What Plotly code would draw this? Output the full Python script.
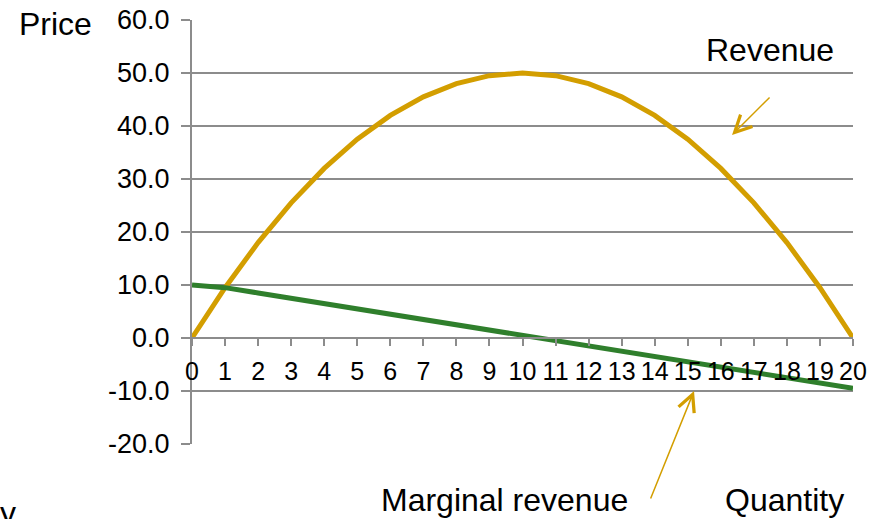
import plotly.graph_objects as go

quantity = list(range(0, 21))
revenue = [0, 9.5, 18, 25.5, 32, 37.5, 42, 45.5, 48, 49.5, 50,
           49.5, 48, 45.5, 42, 37.5, 32, 25.5, 18, 9.5, 0]
marginal_revenue = [10, 9.5, 8.5, 7.5, 6.5, 5.5, 4.5, 3.5, 2.5, 1.5, 0.5,
                    -0.5, -1.5, -2.5, -3.5, -4.5, -5.5, -6.5, -7.5, -8.5, -9.5]
y_ticks = [-20, -10, 0, 10, 20, 30, 40, 50, 60]

FONT = "Liberation Sans, Arial, sans-serif"
GOLD = "#D39E00"
GREEN = "#2F7F2C"
GRID = "#8C8C8C"

fig = go.Figure()
fig.add_trace(go.Scatter(x=quantity, y=revenue, mode="lines",
                         line=dict(color=GOLD, width=5), cliponaxis=False,
                         name="Revenue", showlegend=False))
fig.add_trace(go.Scatter(x=quantity, y=marginal_revenue, mode="lines",
                         line=dict(color=GREEN, width=5), cliponaxis=False,
                         name="Marginal revenue", showlegend=False))

fig.update_layout(
    width=880, height=519,
    margin=dict(l=192, r=27, t=20, b=75),
    paper_bgcolor="white", plot_bgcolor="white",
    font=dict(family=FONT, color="black"),
    xaxis=dict(range=[0, 20], tickmode="array", tickvals=quantity,
               ticktext=[str(q) for q in quantity],
               anchor="free", position=0.25, automargin=False,
               showline=True, linecolor=GRID, linewidth=2,
               ticks="outside", ticklen=7, tickwidth=2, tickcolor=GRID,
               showgrid=False, zeroline=False,
               tickfont=dict(size=25, family=FONT, color="black"),
               ticklabelstandoff=4),
    yaxis=dict(range=[-20, 60], tickmode="array", tickvals=y_ticks,
               ticktext=[f"{v:.1f}" for v in y_ticks], automargin=False,
               showline=True, linecolor=GRID, linewidth=2,
               ticks="outside", ticklen=9, tickwidth=2, tickcolor=GRID,
               showgrid=True, gridcolor=GRID, gridwidth=2,
               zeroline=False, ticklabelstandoff=6,
               tickfont=dict(size=27, family=FONT, color="black")),
)

annotations = [
    dict(text="Price", xref="paper", yref="paper", x=-0.207, y=0.99,
         xanchor="center", yanchor="middle",
         showarrow=False, font=dict(size=32)),
    dict(text="Revenue", xref="x", yref="y", x=17.5, y=54.3,
         xanchor="center", yanchor="middle",
         showarrow=False, font=dict(size=32)),
    dict(text="Marginal revenue", xref="paper", yref="paper", x=0.4735, y=-0.132,
         xanchor="center", yanchor="middle",
         showarrow=False, font=dict(size=32)),
    dict(text="Quantity", xref="paper", yref="paper", x=0.897, y=-0.132,
         xanchor="center", yanchor="middle",
         showarrow=False, font=dict(size=32)),
    dict(text="y", xref="paper", yref="paper", x=-0.279, y=-0.163,
         xanchor="center", yanchor="middle",
         showarrow=False, font=dict(size=32)),
    dict(text="", xref="x", yref="y", x=16.34, y=38.3, ax=39, ay=-39,
         showarrow=True, arrowhead=5, arrowsize=2.2, arrowwidth=1.5,
         arrowcolor=GOLD),
    dict(text="", xref="x", yref="y", x=15.19, y=-10.0, ax=-44, ay=109,
         showarrow=True, arrowhead=5, arrowsize=2.2, arrowwidth=1.5,
         arrowcolor=GOLD),
]
fig.update_layout(annotations=annotations)

fig.write_html(
    "out.html",
    config={"displayModeBar": False},
    post_script="document.documentElement.style.margin='0';"
                "document.body.style.margin='0';"
                "document.body.style.overflow='hidden';",
)
